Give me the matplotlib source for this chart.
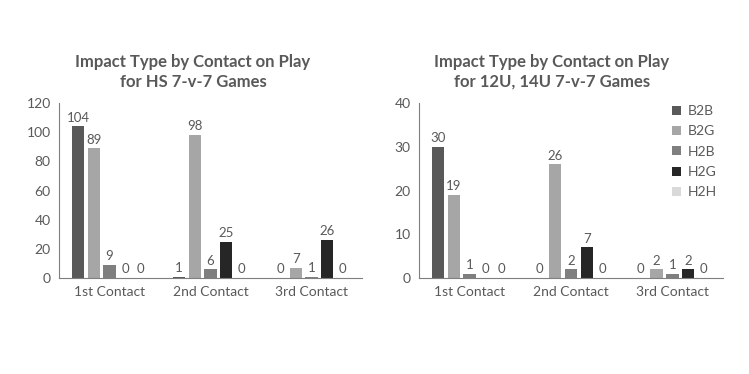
import matplotlib.pyplot as plt
import numpy as np

plt.rcParams['font.family'] = ['Lato', 'DejaVu Sans']

contacts = ['1st Contact', '2nd Contact', '3rd Contact']
impact_types = ['B2B', 'B2G', 'H2B', 'H2G', 'H2H']
colors = ['#595959', '#a6a6a6', '#7f7f7f', '#262626', '#d9d9d9']

hs_b2b = [104, 1, 0]
hs_b2g = [89, 98, 7]
hs_h2b = [9, 6, 1]
hs_h2g = [0, 25, 26]
hs_h2h = [0, 0, 0]

youth_b2b = [30, 0, 0]
youth_b2g = [19, 26, 2]
youth_h2b = [1, 2, 1]
youth_h2g = [0, 7, 2]
youth_h2h = [0, 0, 0]

hs_data = [hs_b2b, hs_b2g, hs_h2b, hs_h2g, hs_h2h]
youth_data = [youth_b2b, youth_b2g, youth_h2b, youth_h2g, youth_h2h]

text_color = '#595959'
fig = plt.figure(figsize=(7.49, 3.74), dpi=100)
W, H = 749, 374


def draw(ax, data, ymax, ystep, legend=False):
    x = np.arange(len(contacts))
    step = 0.155
    width = 0.122
    for i, (vals, c, name) in enumerate(zip(data, colors, impact_types)):
        pos = x + (i - 2) * step
        ax.bar(pos, vals, width=width, color=c, label=name)
        for p, v in zip(pos, vals):
            ax.text(p, v + ymax * 0.015, str(v), ha='center', va='bottom',
                    fontsize=9.5, color=text_color)
    ax.set_xlim(-0.5, 2.5)
    ax.set_ylim(0, ymax)
    ax.set_yticks(np.arange(0, ymax + 1, ystep))
    ax.set_xticks(x)
    ax.set_xticklabels(contacts)
    ax.tick_params(axis='both', length=0, labelsize=10, colors=text_color, pad=6)
    for s in ['top', 'right']:
        ax.spines[s].set_visible(False)
    ax.spines['left'].set_color('#7f7f7f')
    ax.spines['bottom'].set_color('#7f7f7f')
    if legend:
        ax.legend(loc='upper right', bbox_to_anchor=(1.02, 1.06), frameon=False,
                  fontsize=10, handlelength=0.6, handleheight=0.6,
                  handletextpad=0.5, labelspacing=0.6, labelcolor=text_color)


ax1 = fig.add_axes([59 / W, 1 - 278 / H, (362 - 59) / W, (278 - 103) / H])
draw(ax1, hs_data, 120, 20)
ax2 = fig.add_axes([419 / W, 1 - 278 / H, (723 - 419) / W, (278 - 103) / H])
draw(ax2, youth_data, 40, 10, legend=True)

fig.text(193 / W, 1 - 72 / H, 'Impact Type by Contact on Play\nfor HS 7-v-7 Games',
         ha='center', va='center', fontsize=12, fontweight='bold',
         color=text_color, linespacing=1.3)
fig.text(552 / W, 1 - 72 / H, 'Impact Type by Contact on Play\nfor 12U, 14U 7-v-7 Games',
         ha='center', va='center', fontsize=12, fontweight='bold',
         color=text_color, linespacing=1.3)

fig.savefig('out.png', dpi=100, facecolor='white')
